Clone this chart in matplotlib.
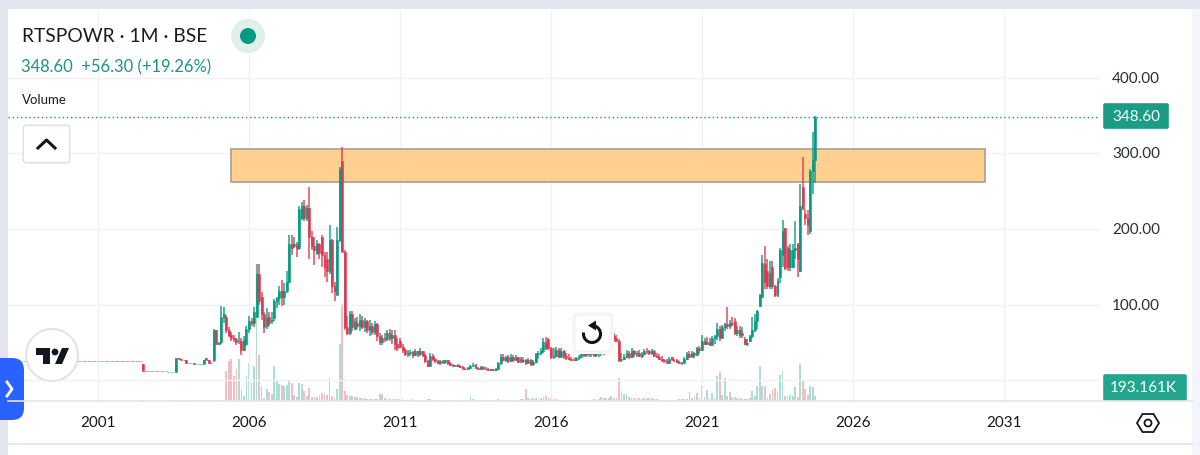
import numpy as np
import matplotlib
matplotlib.use("Agg")
import matplotlib.pyplot as plt
from matplotlib.patches import Rectangle, FancyBboxPatch, Circle, Polygon, Arc

plt.rcParams['font.family'] = ['Lato', 'Liberation Sans', 'DejaVu Sans']

# monthly candles, january 1998 to october 2024
opens = [25.0] * 48 + [
    25, 25, 25, 25, 25, 25, 21, 12, 12, 12, 12, 12,
    12, 12, 12, 12, 10.5, 10.5, 10.5, 10, 29, 28, 27, 26,
    23, 23, 22, 21.5, 21.5, 21.5, 21.5, 29, 26, 23, 26, 66,
    48, 50, 84, 84, 66, 60, 56, 54, 52, 52, 40, 48,
    68, 78, 76, 84, 141, 110, 87, 72, 84, 78, 82, 105,
    108, 118, 110, 118, 130, 180, 178, 180, 175, 215, 230, 215,
    228, 190, 178, 168, 180, 190, 165, 160, 145, 185, 125, 112,
    185, 290, 170, 70, 62, 88, 68, 75, 72, 80, 70, 78,
    66, 72, 64, 74, 58, 50, 56, 54, 62, 56, 60, 48,
    52, 44, 40, 34, 36, 37, 33, 38, 34, 38, 33, 25,
    18, 32, 28, 25, 23, 25, 24, 26, 22, 20, 19, 20,
    18, 17, 15, 14, 16, 19, 20, 16, 14, 17, 15, 14,
    13, 14, 13, 15, 22, 31, 27, 30, 25, 31, 26, 30,
    28, 25, 27, 23, 27, 21, 24, 34, 36, 38, 50, 54,
    42, 30, 32, 40, 31, 38, 32, 29, 28, 27, 26, 29,
    31, 37, 33, 36, 34, 37, 33, 36, 37, 38, 36, 38,
    40, 58, 56, 52, 26, 28, 31, 36, 30, 38, 34, 36,
    32, 35, 39, 38, 36, 38, 32, 31, 28, 26, 25, 23,
    30, 27, 26, 24, 22, 23, 28, 35, 31, 36, 33, 42,
    40, 52, 48, 50, 47, 55, 58, 68, 56, 70, 74, 72,
    76, 78, 62, 66, 60, 54, 48, 52, 58, 66, 78, 98,
    110, 153, 145, 125, 150, 124, 113, 137, 165, 201, 175, 150,
    150, 172, 180, 145, 255, 220, 215, 197, 277, 292,
]
highs = [25.0] * 48 + [
    25, 25, 25, 25, 25, 25, 21, 12, 12, 12, 12, 12,
    12, 12, 12, 12, 10.5, 10.5, 10.5, 29, 29, 28, 27, 26,
    23, 23, 22, 21.5, 21.5, 21.5, 26, 29, 26, 23, 68, 66,
    50, 98, 97, 86, 70, 64, 60, 56, 64, 56, 58, 71,
    85, 82, 97, 153, 153, 116, 90, 95, 90, 90, 107, 110,
    125, 132, 128, 145, 192, 192, 190, 183, 230, 236, 238, 232,
    256, 197, 190, 185, 182, 192, 170, 170, 205, 187, 130, 203,
    282, 309, 172, 85, 91, 92, 82, 83, 88, 85, 82, 80,
    80, 75, 78, 76, 62, 60, 62, 66, 68, 66, 66, 56,
    56, 48, 42, 40, 40, 38, 41, 39, 42, 39, 35, 26,
    36, 34, 29, 27, 26, 27, 27, 27, 24, 21, 20, 21,
    20, 18, 16, 17, 20, 22, 21, 17, 18, 18, 17, 16,
    15, 15, 16, 24, 35, 35, 32, 33, 34, 33, 33, 31,
    31, 30, 28, 29, 28, 27, 36, 38, 42, 56, 57, 56,
    44, 42, 44, 42, 42, 40, 36, 34, 30, 29, 30, 33,
    39, 38, 38, 38, 39, 38, 38, 39, 40, 39, 40, 42,
    66, 62, 60, 54, 36, 34, 40, 38, 42, 40, 38, 40,
    37, 41, 43, 40, 41, 40, 36, 34, 32, 28, 28, 30,
    31, 28, 28, 25, 24, 30, 37, 38, 38, 37, 44, 45,
    60, 55, 57, 56, 58, 60, 75, 72, 73, 76, 97, 80,
    83, 82, 72, 71, 70, 57, 54, 60, 84, 88, 93, 114,
    165, 177, 160, 158, 158, 126, 135, 175, 212, 201, 178, 180,
    180, 210, 182, 260, 296, 226, 225, 280, 329, 350,
]
lows = [25.0] * 48 + [
    25, 25, 25, 25, 25, 25, 12, 12, 12, 12, 12, 12,
    12, 12, 12, 12, 10.5, 10.5, 10.5, 10, 28, 27, 26, 23,
    23, 22, 21.5, 21.5, 21.5, 21.5, 21.5, 27, 23, 21, 24, 46,
    46, 48, 76, 62, 57, 52, 50, 46, 48, 33, 38, 45,
    62, 72, 70, 82, 100, 80, 62, 68, 72, 74, 78, 95,
    100, 98, 100, 115, 128, 165, 175, 163, 172, 212, 210, 210,
    160, 172, 152, 165, 160, 150, 137, 130, 140, 115, 104, 112,
    183, 170, 66, 60, 60, 65, 66, 68, 65, 68, 64, 62,
    58, 60, 60, 52, 46, 47, 50, 52, 52, 48, 40, 38,
    42, 36, 32, 30, 32, 29, 32, 30, 32, 30, 22, 17,
    17, 25, 23, 21, 20, 21, 21, 20, 19, 18, 18, 17,
    16, 14, 13, 13, 15, 18, 15, 13, 13, 14, 13, 12,
    12, 12, 12, 14, 20, 25, 24, 23, 24, 24, 25, 22,
    23, 22, 20, 22, 19, 18, 22, 28, 33, 36, 40, 40,
    28, 28, 30, 29, 30, 28, 27, 26, 25, 25, 25, 27,
    30, 30, 31, 31, 31, 31, 31, 31, 32, 33, 35, 36,
    38, 50, 50, 24, 24, 26, 29, 28, 29, 30, 31, 30,
    29, 33, 35, 33, 33, 30, 29, 26, 24, 23, 22, 21,
    26, 24, 22, 21, 20, 22, 27, 29, 30, 29, 32, 35,
    38, 46, 46, 45, 46, 48, 53, 52, 55, 65, 68, 68,
    71, 60, 58, 56, 55, 47, 45, 50, 56, 64, 68, 97,
    108, 120, 120, 120, 121, 110, 110, 128, 150, 146, 144, 145,
    148, 160, 136, 143, 225, 205, 192, 193, 247, 261,
]
closes = [25.0] * 48 + [
    25, 25, 25, 25, 25, 25, 12, 12, 12, 12, 12, 12,
    12, 12, 12, 12, 10.5, 10.5, 10.5, 29, 28, 27, 26, 23,
    23, 22, 21.5, 21.5, 21.5, 21.5, 26, 27, 23, 22, 66, 48,
    49, 84, 88, 66, 60, 56, 54, 50, 52, 40, 53, 68,
    78, 76, 90, 141, 104, 87, 70, 84, 76, 80, 105, 108,
    118, 110, 118, 130, 180, 175, 180, 175, 226, 230, 215, 228,
    190, 178, 172, 180, 168, 165, 150, 145, 185, 125, 118, 185,
    280, 170, 70, 62, 88, 70, 78, 72, 80, 70, 78, 66,
    72, 64, 74, 58, 50, 56, 54, 62, 56, 60, 48, 42,
    44, 40, 34, 36, 37, 33, 38, 34, 38, 33, 25, 18,
    32, 28, 25, 23, 25, 24, 26, 22, 20, 19, 20, 18,
    17, 15, 14, 16, 19, 20, 16, 14, 17, 15, 14, 13,
    14, 13, 15, 22, 31, 27, 30, 25, 31, 26, 30, 24,
    25, 27, 23, 27, 21, 24, 34, 36, 38, 50, 42, 42,
    30, 32, 40, 31, 38, 32, 29, 28, 27, 26, 29, 31,
    37, 33, 36, 34, 37, 33, 36, 37, 38, 36, 38, 40,
    58, 54, 52, 26, 28, 31, 36, 30, 38, 34, 36, 32,
    35, 39, 38, 36, 38, 32, 31, 28, 26, 25, 23, 28,
    27, 26, 24, 22, 23, 28, 35, 31, 36, 33, 42, 40,
    52, 48, 50, 47, 55, 58, 68, 56, 70, 74, 72, 76,
    74, 62, 66, 60, 62, 48, 49, 58, 66, 78, 92, 112,
    155, 130, 125, 142, 125, 113, 131, 172, 197, 148, 150, 172,
    172, 175, 160, 230, 228, 215, 205, 277, 292, 348.6,
]
# volume in thousands
volumes = [0.0] * 48 + [
    0, 0, 0, 0, 0, 0, 30, 0, 0, 0, 0, 0,
    0, 0, 0, 0, 30, 30, 30, 30, 30, 30, 30, 30,
    30, 30, 30, 30, 30, 30, 30, 30, 30, 30, 30, 40,
    40, 40, 40, 1200, 1600, 1680, 1000, 1280, 1680, 480, 200, 1000,
    1520, 720, 1400, 3320, 1840, 600, 120, 480, 360, 280, 1400, 840,
    680, 640, 600, 640, 840, 720, 240, 160, 720, 680, 400, 200,
    520, 160, 160, 160, 240, 320, 280, 240, 920, 200, 120, 480,
    2280, 3880, 400, 240, 200, 200, 160, 160, 120, 120, 120, 80,
    80, 80, 80, 80, 280, 280, 120, 80, 80, 80, 80, 80,
    80, 80, 60, 60, 60, 80, 60, 60, 60, 60, 60, 100,
    80, 60, 60, 60, 60, 60, 60, 60, 60, 60, 60, 60,
    60, 60, 60, 60, 200, 100, 60, 60, 60, 60, 60, 60,
    60, 60, 60, 100, 60, 60, 60, 60, 60, 60, 60, 60,
    80, 80, 480, 120, 80, 120, 120, 80, 120, 160, 200, 120,
    120, 80, 80, 60, 60, 60, 60, 60, 60, 60, 60, 60,
    60, 60, 60, 60, 60, 80, 60, 80, 160, 120, 120, 120,
    200, 120, 120, 920, 400, 280, 280, 160, 120, 120, 120, 120,
    80, 120, 120, 120, 120, 80, 80, 60, 60, 60, 60, 60,
    60, 60, 60, 80, 80, 80, 80, 360, 120, 200, 320, 120,
    640, 160, 440, 120, 320, 120, 1000, 1160, 240, 920, 200, 360,
    160, 160, 120, 120, 80, 80, 80, 120, 400, 200, 600, 1400,
    600, 600, 120, 280, 480, 520, 400, 1040, 1200, 200, 200, 240,
    200, 560, 160, 1480, 800, 480, 240, 600, 560, 193.161,
]
year_ticks = [2001, 2006, 2011, 2016, 2021, 2026, 2031]
price_ticks = [400, 300, 200, 100]
zone_years = [2005.4, 2030.37]
zone_prices = [262.0, 306.5]
last_price = 348.60

opens, highs, lows, closes, volumes = map(np.array, (opens, highs, lows, closes, volumes))
x = 1998 + np.arange(len(closes)) / 12
up = closes >= opens
GREEN = "#089981"
RED = "#d93a50"
GRID = "#f0f2f8"
colours = np.where(up, GREEN, RED)

fig = plt.figure(figsize=(12, 4.55), dpi=100, facecolor="white")
ax = fig.add_axes([8 / 1200, 54 / 455, 1092 / 1200, 391 / 455])
ax.set_xlim(2001 - 90 / 30.2, 2001 + 1002 / 30.2)
ax.set_ylim(-21 / 0.755, 370 / 0.755)
for s in ax.spines.values():
    s.set_visible(False)
ax.set_xticks([])
ax.set_yticks([])
ax.patch.set_alpha(0)

for y in year_ticks:
    ax.axvline(y, color=GRID, lw=1, zorder=0)
for p in price_ticks + [0]:
    ax.axhline(p, color=GRID, lw=1, zorder=0)

# volume bars on their own scale, 40K for one pixel
vol_ax = ax.twinx()
vol_ax.set_ylim(0, 391 * 40)
vol_ax.axis("off")
vol_ax.bar(x, volumes, width=0.06, color=colours, alpha=0.33, lw=0)

ax.set_zorder(vol_ax.get_zorder() + 1)
# zone sits under the candles
ax.add_patch(Rectangle((zone_years[0], zone_prices[0]), zone_years[1] - zone_years[0],
                       zone_prices[1] - zone_prices[0], facecolor="#ffd08f",
                       edgecolor="#a89e94", lw=1.2, zorder=1))
ax.vlines(x, lows, highs, colors=colours, lw=1.1, alpha=0.9, zorder=3)
ax.bar(x, np.abs(closes - opens), bottom=np.minimum(opens, closes), width=0.066,
       color=colours, edgecolor=colours, lw=0.4, zorder=3)
ax.axhline(last_price, color=GREEN, lw=1, ls=(0, (1, 2)), zorder=5)

# app chrome drawn in pixel coordinates
ui = fig.add_axes([0, 0, 1, 1], zorder=20)
ui.set_xlim(0, 1200)
ui.set_ylim(455, 0)
ui.axis("off")
ui.patch.set_alpha(0)

ui.add_patch(Rectangle((0, 0), 1200, 9, color="#e3e6f0", lw=0))
ui.add_patch(Rectangle((0, 0), 8, 455, color="#e3e6f0", lw=0))
ui.add_patch(Rectangle((1192, 9), 8, 446, color="#f3f5fb", lw=0))
ui.plot([8, 1192], [401, 401], color="#e2e5ec", lw=1.2)
ui.plot([8, 1192], [444, 444], color="#e2e5ec", lw=1.2)

ui.text(22, 36, "RTSPOWR · 1M · BSE", fontsize=13.9, color="#1b1d24", va="center")
ui.text(21, 67, "348.60  +56.30 (+19.26%)", fontsize=11.9, color="#1f9482", va="center")
ui.text(22, 100, "Volume", fontsize=9.5, color="#1b1d24", va="center")
ui.add_patch(Circle((248, 36), 17, color="#dff0ec", lw=0))
ui.add_patch(Circle((248, 36), 8, color=GREEN, lw=0))

for p in price_ticks:
    ui.text(1160, 380 - p * 0.755 + 1, f"{p:.2f}", fontsize=11, color="#2a2e39", ha="right", va="center")
for y in year_ticks:
    ui.text(98 + (y - 2001) * 30.2, 423, str(y), fontsize=11, color="#15171c", ha="center", va="center")

ui.add_patch(FancyBboxPatch((1104, 104), 64, 24, boxstyle="round,pad=0.8,rounding_size=2", color="#1b9c85", lw=0))
ui.text(1160, 117, "348.60", fontsize=11, color="white", ha="right", va="center")
ui.add_patch(FancyBboxPatch((1104, 375), 82, 25, boxstyle="round,pad=0.8,rounding_size=2", color="#24a58d", lw=0))
ui.text(1177, 388, "193.161K", fontsize=11, color="white", ha="right", va="center")

# collapse button
ui.add_patch(FancyBboxPatch((24, 126), 45, 36, boxstyle="round,pad=0.8,rounding_size=3",
                            facecolor="white", edgecolor="#dcdfe6", lw=1))
ui.plot([38, 46.5, 55], [148, 140, 148], color="#15171c", lw=2.2)

# refresh button
for pad, col in ((4, "#f7f7f9"), (2, "#f2f2f5")):
    ui.add_patch(FancyBboxPatch((576, 316), 34, 34, boxstyle=f"round,pad={pad},rounding_size=5", color=col, lw=0))
ui.add_patch(FancyBboxPatch((576, 316), 34, 34, boxstyle="round,pad=0.5,rounding_size=4", color="white", lw=0))
ui.add_patch(Arc((592, 334), 17, 17, theta1=-90, theta2=190, color="#111318", lw=2.2))
ui.add_patch(Polygon([[588, 325.5], [596, 320.5], [596, 330.5]], color="#111318", lw=0))

# logo
ui.add_patch(Circle((52, 355), 26, facecolor="white", edgecolor="#e1e3e8", lw=1.5))
ui.add_patch(Polygon([[36, 348], [50, 348], [50, 364], [43, 364], [43, 355], [36, 355]], color="#131722", lw=0))
ui.add_patch(Circle((55, 352), 3.4, color="#131722", lw=0))
ui.add_patch(Polygon([[62, 348], [69, 348], [62, 364], [55, 364]], color="#131722", lw=0))

# side tab
ui.add_patch(FancyBboxPatch((-12, 360), 34, 58, boxstyle="round,pad=2,rounding_size=12", color="#2962ff", lw=0))
ui.plot([7, 12, 7], [382, 389, 396], color="white", lw=2)

# settings hexagon
ui.add_patch(Polygon([[1137, 423], [1142.5, 414], [1153.5, 414], [1159, 423], [1153.5, 432], [1142.5, 432]],
                     fill=False, edgecolor="#15171c", lw=1.3))
ui.add_patch(Circle((1148, 423), 3.5, fill=False, edgecolor="#15171c", lw=1.3))

fig.savefig("out.png", dpi=100)
